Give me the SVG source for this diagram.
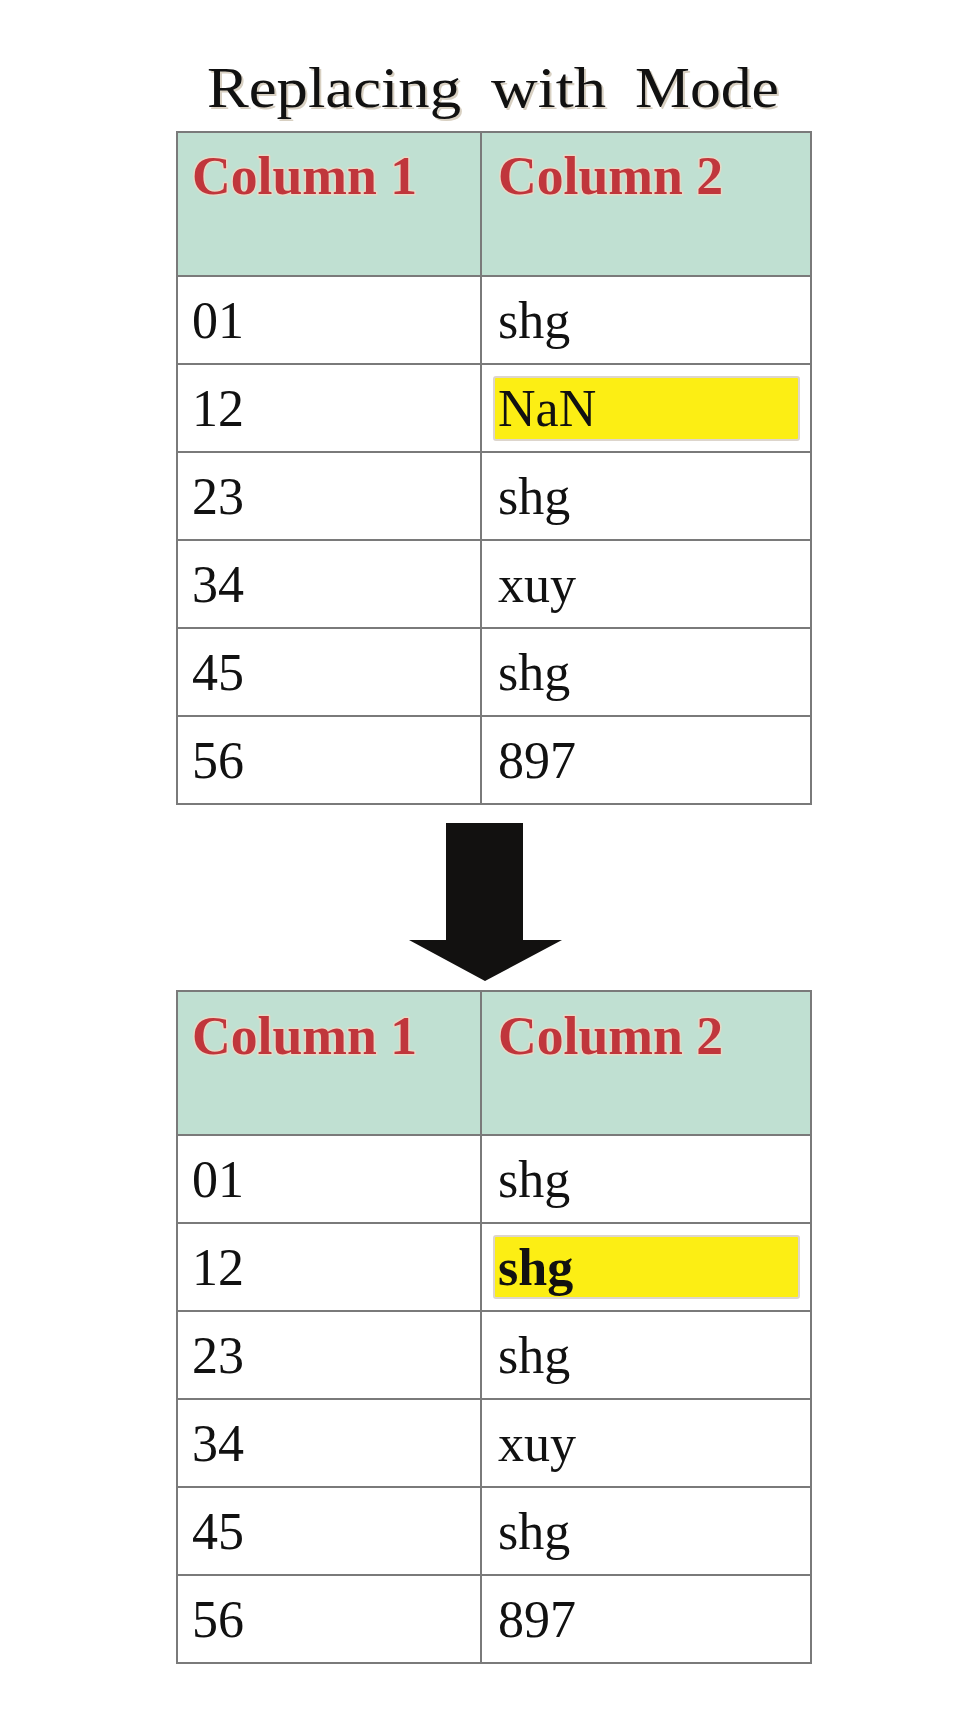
<svg xmlns="http://www.w3.org/2000/svg" width="968" height="1727" viewBox="0 0 968 1727">
<style>
.title{font-family:"Liberation Serif","Times New Roman",serif;font-size:56px;fill:#111}
.tshadow{font-family:"Liberation Serif","Times New Roman",serif;font-size:56px;fill:#d8d0c2}
.hdrbg{fill:#c0e0d2}
.grid{fill:none;stroke:#7a7a7a;stroke-width:2}
.hdr{font-family:"Liberation Serif","Times New Roman",serif;font-size:54px;font-weight:bold;fill:#c0363c;stroke:#e8d8c6;stroke-width:3;paint-order:stroke;stroke-linejoin:round}
.cell{font-family:"Liberation Serif","Times New Roman",serif;font-size:52px;fill:#111}
.hl{fill:#fcee14;stroke:#ddd5cc;stroke-width:2}
</style>
<rect width="968" height="1727" fill="#ffffff"/>
<g id="title">
<text class="tshadow" x="209" y="109" textLength="254" lengthAdjust="spacingAndGlyphs">Replacing</text>
<text class="tshadow" x="493" y="109" textLength="115" lengthAdjust="spacingAndGlyphs">with</text>
<text class="tshadow" x="637" y="109" textLength="144" lengthAdjust="spacingAndGlyphs">Mode</text>
<text class="title" x="207" y="107" textLength="254" lengthAdjust="spacingAndGlyphs">Replacing</text>
<text class="title" x="491" y="107" textLength="115" lengthAdjust="spacingAndGlyphs">with</text>
<text class="title" x="635" y="107" textLength="144" lengthAdjust="spacingAndGlyphs">Mode</text>
</g>
<g id="table-before">
<rect class="hdrbg" x="177" y="132" width="634" height="144"/>
<rect x="494" y="377" width="305" height="63" rx="2" class="hl"/>
<path class="grid" d="M177,132H811V804H177Z M481,132V804 M177,276H811 M177,364H811 M177,452H811 M177,540H811 M177,628H811 M177,716H811"/>
<text class="hdr" x="192" y="194" textLength="225" lengthAdjust="spacingAndGlyphs">Column 1</text>
<text class="hdr" x="498" y="194" textLength="225" lengthAdjust="spacingAndGlyphs">Column 2</text>
<text class="cell" x="192" y="338">01</text><text class="cell" x="498" y="338">shg</text>
<text class="cell" x="192" y="426">12</text><text class="cell" x="498" y="426">NaN</text>
<text class="cell" x="192" y="514">23</text><text class="cell" x="498" y="514">shg</text>
<text class="cell" x="192" y="602">34</text><text class="cell" x="498" y="602">xuy</text>
<text class="cell" x="192" y="690">45</text><text class="cell" x="498" y="690">shg</text>
<text class="cell" x="192" y="778">56</text><text class="cell" x="498" y="778">897</text>
</g>
<g id="connectors">
<polygon points="446,823 523,823 523,940 562,940 485,981 409,940 446,940" fill="#121110"/>
</g>
<g id="table-after">
<rect class="hdrbg" x="177" y="991" width="634" height="144"/>
<rect x="494" y="1236" width="305" height="62" rx="2" class="hl"/>
<path class="grid" d="M177,991H811V1663H177Z M481,991V1663 M177,1135H811 M177,1223H811 M177,1311H811 M177,1399H811 M177,1487H811 M177,1575H811"/>
<text class="hdr" x="192" y="1054" textLength="225" lengthAdjust="spacingAndGlyphs">Column 1</text>
<text class="hdr" x="498" y="1054" textLength="225" lengthAdjust="spacingAndGlyphs">Column 2</text>
<text class="cell" x="192" y="1197">01</text><text class="cell" x="498" y="1197">shg</text>
<text class="cell" x="192" y="1285">12</text><text class="cell" x="498" y="1285" font-weight="bold">shg</text>
<text class="cell" x="192" y="1373">23</text><text class="cell" x="498" y="1373">shg</text>
<text class="cell" x="192" y="1461">34</text><text class="cell" x="498" y="1461">xuy</text>
<text class="cell" x="192" y="1549">45</text><text class="cell" x="498" y="1549">shg</text>
<text class="cell" x="192" y="1637">56</text><text class="cell" x="498" y="1637">897</text>
</g>
</svg>
